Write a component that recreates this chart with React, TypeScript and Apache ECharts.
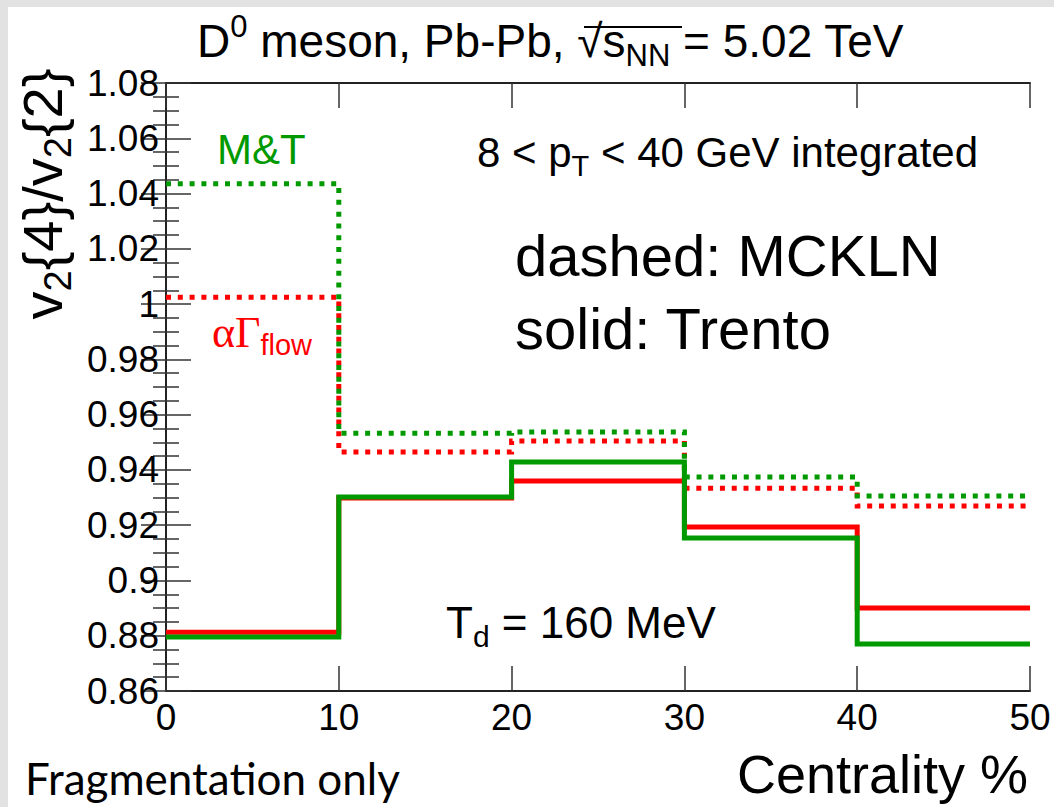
import React, { useEffect, useRef } from "react";
import * as echarts from "echarts";

// Bin edges (centrality %)
const binEdges = [0, 10, 20, 30, 40, 50];
// v2{4}/v2{2} per centrality bin
const mcklnMT = [1.0435, 0.9533, 0.9537, 0.9374, 0.9306]; // dashed green
const mcklnAG = [1.0025, 0.9465, 0.9505, 0.9334, 0.9269]; // dashed red
const trentoMT = [0.8795, 0.9302, 0.9429, 0.9154, 0.877]; // solid green
const trentoAG = [0.8813, 0.9298, 0.936, 0.9193, 0.89]; // solid red

const RED = "#ff0000";
const GREEN = "#009a00";
const SANS = "'Liberation Sans', Arial, Helvetica, sans-serif";
const SERIF = "'Liberation Serif', 'Times New Roman', serif";

function histPoints(vals: number[]) {
  const pts: number[][] = [];
  vals.forEach((v, i) => {
    pts.push([binEdges[i], v]);
    pts.push([binEdges[i + 1], v]);
  });
  return pts;
}

function fmt(v: number) {
  return String(Number(v.toFixed(3)));
}

export default function App() {
  const ref = useRef<HTMLDivElement>(null);
  useEffect(() => {
    if (!ref.current) return;
    const chart = echarts.init(ref.current, undefined, { renderer: "svg" });
    const axisLine = { show: true, lineStyle: { color: "#222", width: 2 } };
    const tick = { show: true, inside: true, length: 25, lineStyle: { color: "#333", width: 1.5 } };
    const minorTick = { show: true, splitNumber: 4, length: 13, lineStyle: { color: "#333", width: 1.5 } };
    const dotted = [5, 6.8];
    const mkSeries = (name: string, vals: number[], color: string, dash: boolean) => ({
      name,
      type: "line",
      data: histPoints(vals),
      symbol: "none",
      silent: true,
      lineStyle: { color, width: 5, type: dash ? dotted : "solid", cap: "butt", join: "miter" },
    });
    chart.setOption({
      animation: false,
      backgroundColor: "#ffffff",
      grid: { left: 166, right: 24, top: 83, bottom: 116, containLabel: false },
      xAxis: [
        {
          type: "value", min: 0, max: 50, interval: 10, position: "bottom",
          axisLine, axisTick: tick, splitLine: { show: false },
          axisLabel: { fontSize: 37, color: "#000", fontFamily: SANS, margin: 8, formatter: (v: number) => fmt(v) },
        },
        {
          type: "value", min: 0, max: 50, interval: 10, position: "top",
          axisLine, axisTick: tick, splitLine: { show: false }, axisLabel: { show: false },
        },
      ],
      yAxis: [
        {
          type: "value", min: 0.86, max: 1.08, interval: 0.02, position: "left",
          axisLine, axisTick: tick, minorTick, splitLine: { show: false },
          axisLabel: { fontSize: 37, color: "#000", fontFamily: SANS, margin: 7, formatter: (v: number) => fmt(v) },
        },
        {
          type: "value", min: 0.86, max: 1.08, interval: 0.02, position: "right",
          axisLine, axisTick: tick, minorTick, splitLine: { show: false }, axisLabel: { show: false },
        },
      ],
      series: [
        mkSeries("MCKLN αΓflow", mcklnAG, RED, true),
        mkSeries("MCKLN M&T", mcklnMT, GREEN, true),
        mkSeries("Trento αΓflow", trentoAG, RED, false),
        mkSeries("Trento M&T", trentoMT, GREEN, false),
      ],
      graphic: [
        { type: "rect", shape: { x: 0, y: 0, width: 1054, height: 7 }, style: { fill: "#e2e2e2" }, silent: true },
        { type: "rect", shape: { x: 0, y: 0, width: 8, height: 807 }, style: { fill: "#e2e2e2" }, silent: true },
        // Title
        {
          type: "text", x: 197, y: 11,
          style: {
            text: "{a|D}{sup|0}{a| meson, Pb-Pb, }{a|√}{a|s}{sub|NN}{a| = 5.02 TeV}",
            fill: "#000",
            fontFamily: SANS, fontSize: 46, lineHeight: 60,
            rich: {
              a: { fontFamily: SANS, fontSize: 46, lineHeight: 60, fill: "#000" },
              sup: { fontFamily: SANS, fontSize: 31, lineHeight: 36, verticalAlign: "top", fill: "#000" },
              sub: { fontFamily: SANS, fontSize: 31, lineHeight: 33, verticalAlign: "bottom", fill: "#000" },
            },
          },
        },
        // overline of the square root
        { type: "line", shape: { x1: 584, y1: 27, x2: 682, y2: 27 }, style: { stroke: "#000", lineWidth: 2 }, silent: true },
        // pT range
        {
          type: "text", x: 477, y: 124,
          style: {
            text: "{a|8 < p}{sub|T}{a| < 40 GeV integrated}",
            fill: "#000", fontFamily: SANS, fontSize: 42, lineHeight: 56,
            rich: {
              a: { fontFamily: SANS, fontSize: 42, lineHeight: 56, fill: "#000" },
              sub: { fontFamily: SANS, fontSize: 29, lineHeight: 30, verticalAlign: "bottom", fill: "#000" },
            },
          },
        },
        { type: "text", x: 515, y: 226, style: { text: "dashed: MCKLN", fill: "#000", fontFamily: SANS, fontSize: 58 } },
        { type: "text", x: 515, y: 299, style: { text: "solid: Trento", fill: "#000", fontFamily: SANS, fontSize: 58 } },
        { type: "text", x: 217, y: 128, style: { text: "M&T", fill: GREEN, fontFamily: SANS, fontSize: 42 } },
        {
          type: "text", x: 212, y: 305,
          style: {
            text: "{g|αΓ}{s|flow}",
            fill: RED, fontFamily: SERIF, fontSize: 44, lineHeight: 54,
            rich: {
              g: { fontFamily: SERIF, fontSize: 44, lineHeight: 54, fill: RED },
              s: { fontFamily: SANS, fontSize: 29, lineHeight: 28, verticalAlign: "bottom", fill: RED },
            },
          },
        },
        {
          type: "text", x: 446, y: 594,
          style: {
            text: "{a|T}{sub|d}{a| = 160 MeV}",
            fill: "#000", fontFamily: SANS, fontSize: 44, lineHeight: 57,
            rich: {
              a: { fontFamily: SANS, fontSize: 44, lineHeight: 57, fill: "#000" },
              sub: { fontFamily: SANS, fontSize: 30, lineHeight: 30, verticalAlign: "bottom", fill: "#000" },
            },
          },
        },
        // Y title (rotated)
        {
          type: "text", x: 42, y: 194, rotation: Math.PI / 2,
          style: {
            text: "v{s|2}{4}/v{s|2}{2}",
            fill: "#000", fontFamily: SANS, fontSize: 56, lineHeight: 70,
            align: "center", verticalAlign: "middle",
            rich: {
              s: { fontFamily: SANS, fontSize: 38, lineHeight: 40, verticalAlign: "bottom", fill: "#000" },
            },
          },
        },
        // X title
        {
          type: "text", x: 1028, y: 745,
          style: { text: "Centrality %", fill: "#000", fontFamily: SANS, fontSize: 54, lineHeight: 58, align: "right" },
        },
        {
          type: "text", x: 25, y: 756,
          style: { text: "Fragmentation only", fill: "#000", fontFamily: "Lato", fontSize: 44 },
        },
      ],
    });
    return () => chart.dispose();
  }, []);
  return (
    <div
      ref={ref}
      style={{ position: "absolute", left: 0, top: 0, width: 1054, height: 807 }}
    />
  );
}
